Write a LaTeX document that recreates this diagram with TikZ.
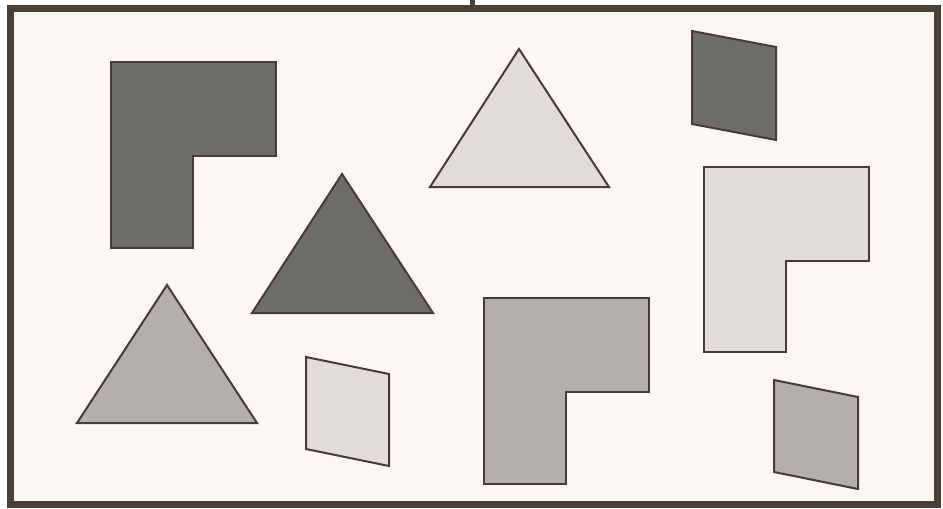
\documentclass[tikz,border=0pt]{standalone}
\definecolor{paper}{HTML}{FCF7F3}
\definecolor{framec}{HTML}{4B4038}
\definecolor{edgec}{HTML}{4A3A35}
\definecolor{darkfill}{HTML}{6E6C69}
\definecolor{midfill}{HTML}{B2AFAC}
\definecolor{lightfill}{HTML}{E1DCD9}
\tikzset{
  shapeedge/.style={draw=edgec, line width=1.5pt, line join=miter},
  darkshape/.style={shapeedge, fill=darkfill},
  midshape/.style={shapeedge, fill=midfill},
  lightshape/.style={shapeedge, fill=lightfill},
}
\begin{document}
\begin{tikzpicture}[x=0.75pt, y=-0.75pt]
\useasboundingbox (0,0) rectangle (943,508);
\fill[white] (0,0) rectangle (943,508);
% frame
\draw[framec, line width=5.25pt, fill=paper] (10.5,8.5) rectangle (937,504);
\fill[framec] (470,0) rectangle (474.5,8);
% dark L
\draw[darkshape] (111,62) -- (276,62) -- (276,156) -- (193,156) -- (193,248) -- (111,248) -- cycle;
% light triangle
\draw[lightshape] (519,49) -- (609,187) -- (430,187) -- cycle;
% dark parallelogram
\draw[darkshape] (692,31) -- (776,47) -- (776,140) -- (692,124) -- cycle;
% light L
\draw[lightshape] (704,167) -- (869,167) -- (869,261) -- (786,261) -- (786,352) -- (704,352) -- cycle;
% dark triangle
\draw[darkshape] (342,174) -- (433,313) -- (252,313) -- cycle;
% medium triangle
\draw[midshape] (167,285) -- (257,423) -- (77,423) -- cycle;
% light parallelogram
\draw[lightshape] (306,357) -- (389,374) -- (389,466) -- (306,449) -- cycle;
% medium L
\draw[midshape] (484,298) -- (649,298) -- (649,392) -- (566,392) -- (566,484) -- (484,484) -- cycle;
% medium parallelogram
\draw[midshape] (774,380) -- (858,397) -- (858,489) -- (774,472) -- cycle;
\end{tikzpicture}
\end{document}
